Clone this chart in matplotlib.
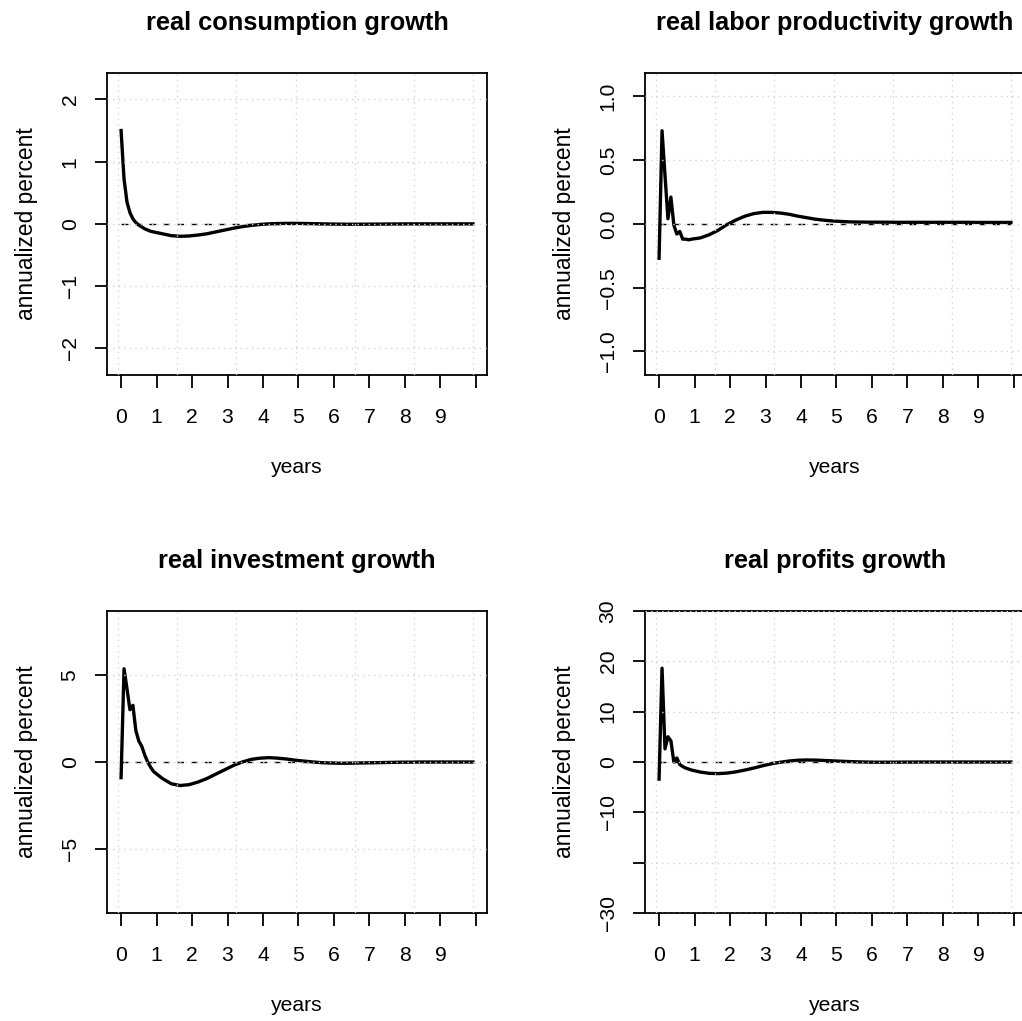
import numpy as np
import matplotlib
matplotlib.use("Agg")
import matplotlib.pyplot as plt
from matplotlib.ticker import FixedLocator, FixedFormatter

plt.rcParams['font.family'] = ['Liberation Sans', 'DejaVu Sans']

# impulse responses, sampled monthly for the first year, then quarterly
months = list(range(1, 13)) + list(range(15, 121, 3))

consumption = [1.50, 0.72, 0.35, 0.18, 0.08, 0.02, -0.02, -0.05, -0.08, -0.10, -0.12, -0.13,
               -0.16, -0.19, -0.20, -0.195, -0.18, -0.16, -0.13, -0.10, -0.07, -0.045, -0.025, -0.01,
               0.0, 0.005, 0.008, 0.008, 0.006, 0.003, 0.0, -0.003, -0.005, -0.006, -0.006, -0.005,
               -0.004, -0.003, -0.002, -0.001, 0.0, 0.0, 0.0, 0.0, 0.0, 0.0, 0.0, 0.0]

productivity = [-0.27, 0.73, 0.38, 0.04, 0.21, -0.01, -0.08, -0.06, -0.12, -0.12, -0.125, -0.12,
                -0.11, -0.085, -0.05, -0.005, 0.03, 0.06, 0.08, 0.09, 0.09, 0.085, 0.075, 0.06,
                0.048, 0.036, 0.028, 0.022, 0.018, 0.015, 0.014, 0.013, 0.013, 0.013, 0.012, 0.012,
                0.012, 0.012, 0.012, 0.012, 0.012, 0.012, 0.012, 0.011, 0.011, 0.011, 0.011, 0.011]

investment = [-0.9, 5.35, 4.2, 3.0, 3.25, 1.8, 1.2, 0.9, 0.4, 0.0, -0.3, -0.55,
              -0.95, -1.25, -1.35, -1.3, -1.15, -0.95, -0.7, -0.45, -0.2, 0.0, 0.15, 0.22,
              0.25, 0.22, 0.17, 0.10, 0.05, 0.0, -0.04, -0.06, -0.07, -0.07, -0.06, -0.05,
              -0.04, -0.03, -0.02, -0.01, -0.01, 0.0, 0.0, 0.0, 0.0, 0.0, 0.0, 0.0]

profits = [-3.4, 18.6, 2.6, 5.0, 4.2, 0.0, 0.8, -0.5, -0.9, -1.2, -1.4, -1.6,
           -2.0, -2.25, -2.3, -2.2, -1.95, -1.6, -1.2, -0.75, -0.35, -0.05, 0.2, 0.35,
           0.4, 0.37, 0.3, 0.22, 0.14, 0.07, 0.02, -0.02, -0.04, -0.04, -0.03, -0.02,
           -0.01, 0.0, 0.0, 0.0, 0.0, 0.0, 0.0, 0.0, 0.0, 0.0, 0.0, 0.0]

titles = ["real consumption growth", "real labor productivity growth",
          "real investment growth", "real profits growth"]
series = [consumption, productivity, investment, profits]

yticks = [[-2, -1, 0, 1, 2],
          [-1.0, -0.5, 0.0, 0.5, 1.0],
          [-5, 0, 5],
          [-30, -20, -10, 0, 10, 20, 30]]
ytick_labels = [["\u22122", "\u22121", "0", "1", "2"],
                ["\u22121.0", "\u22120.5", "0.0", "0.5", "1.0"],
                ["\u22125", "0", "5"],
                ["\u221230", "", "\u221210", "0", "10", "20", "30"]]
ylims = [(-2.43, 2.43), (-1.185, 1.185), (-8.68, 8.68), (-30, 30)]

xticks = list(range(11))
xtick_labels = [str(i) for i in range(10)] + [""]
grid_months = [0, 20, 40, 60, 80, 100, 120]

W, H = 1022, 1021
# panel boxes in pixels: left, top, width, height
boxes = [(107, 72.7, 380, 302.3), (645, 72.7, 380, 302.3),
         (107, 610.7, 380, 302.6), (645, 610.7, 380, 302.6)]

fig = plt.figure(figsize=(W / 100, H / 100), dpi=100)

years = (np.array(months) - 1) / 12.0
grid_x = (np.array(grid_months) - 1) / 12.0
fs = 15.2

for k in range(4):
    l, t, w, h = boxes[k]
    ax = fig.add_axes([l / W, 1 - (t + h) / H, w / W, h / H])
    ax.plot(years, series[k], color="black", lw=2.4, zorder=1.6,
            solid_joinstyle="round")
    ax.plot([years[0], years[-1]], [0, 0], color="black", lw=1.0,
            dashes=(5, 5), zorder=1.7)

    ax.set_xlim(-0.3967, 10.313)
    ax.set_ylim(*ylims[k])

    ax.xaxis.set_major_locator(FixedLocator(xticks))
    ax.xaxis.set_major_formatter(FixedFormatter(xtick_labels))
    ax.xaxis.set_minor_locator(FixedLocator(grid_x))
    ax.yaxis.set_major_locator(FixedLocator(yticks[k]))
    ax.yaxis.set_major_formatter(FixedFormatter(ytick_labels[k]))

    ax.tick_params(which="major", direction="out", length=9, width=1.3,
                   labelsize=fs, color="black")
    ax.tick_params(axis="x", which="major", pad=14.5)
    ax.tick_params(axis="y", which="major", pad=10.7, labelrotation=90)
    for lab in ax.get_yticklabels():
        lab.set_va("center")
    ax.tick_params(which="minor", length=0)

    ax.set_axisbelow(False)
    ax.grid(True, axis="x", which="minor", color="#D3D3D3", lw=1.0,
            linestyle=(0, (1, 3)))
    ax.grid(True, axis="y", which="major", color="#D3D3D3", lw=1.0,
            linestyle=(0, (1, 3)))
    ax.grid(False, axis="x", which="major")

    for sp in ax.spines.values():
        sp.set_linewidth(1.3)
        sp.set_zorder(1.8)

    ax.text(0.5, 1 + 42.5 / h, titles[k], transform=ax.transAxes,
            ha="center", va="baseline", fontsize=fs * 1.2, fontweight="bold")
    ax.text(0.5, -97.7 / h, "years", transform=ax.transAxes,
            ha="center", va="baseline", fontsize=fs)
    ax.text(-73.7 / w, 0.5, "annualized percent", transform=ax.transAxes,
            ha="center", va="baseline", rotation=90, rotation_mode="anchor",
            fontsize=16.4)

fig.savefig("out.png", dpi=100)
